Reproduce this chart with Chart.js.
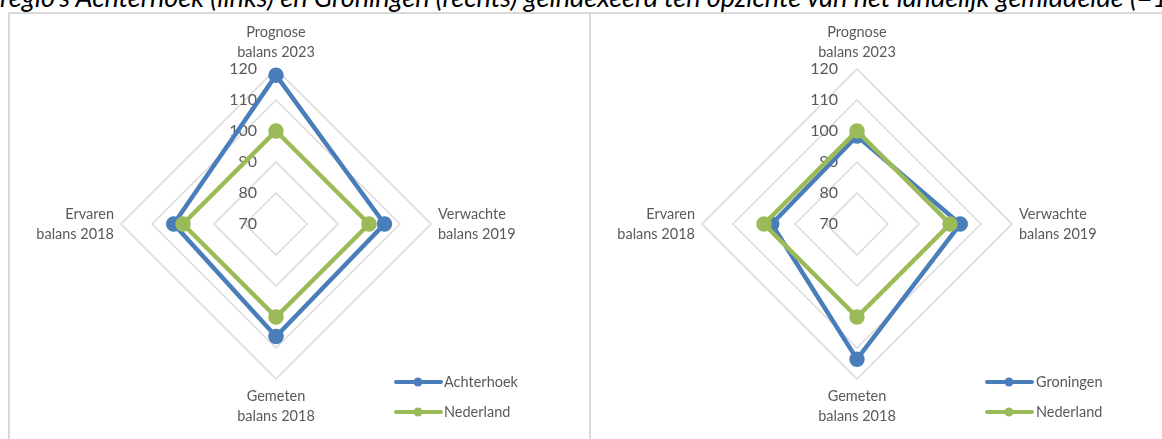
<!DOCTYPE html>
<html>
<head>
<meta charset="utf-8">
<script src="https://cdn.jsdelivr.net/npm/chart.js@4.4.1/dist/chart.umd.min.js"></script>
<style>
body { margin: 0; width: 1162px; height: 439px; overflow: hidden; background: #fff; position: relative; font-family: Lato, sans-serif; }
#titel { position: absolute; left: 0; top: -20px; font-style: italic; font-size: 27px; white-space: nowrap; color: #000; }
.kader { position: absolute; top: 12px; height: 440px; width: 583px; border: 2px solid #d9d9d9; box-sizing: border-box; background: #fff; }
canvas { position: absolute; top: 14px; }
</style>
</head>
<body>
<div id="titel">regio's Achterhoek (links) en Groningen (rechts) geïndexeerd ten opzichte van het landelijk gemiddelde (=100)</div>
<div class="kader" style="left:8px"></div>
<div class="kader" style="left:589px"></div>
<canvas id="radarLinks" width="579" height="425" style="left:10px"></canvas>
<canvas id="radarRechts" width="579" height="425" style="left:591px"></canvas>
<script>
const assen = [['Prognose', 'balans 2023'], ['Verwachte', 'balans 2019'], ['Gemeten', 'balans 2018'], ['Ervaren', 'balans 2018']];
const achterhoek = [118, 105, 106.3, 103];
const groningen = [98.4, 103.3, 113.6, 97.5];
const nederland = [100, 100, 100, 100];
const schaalTicks = [70, 80, 90, 100, 110, 120];

const blauw = '#4a7ebb';
const groen = '#9bbb59';
const tekstKleur = '#595959';

// waardes naast de verticale as, rechts uitgelijnd
const tickLabels = {
    id: 'tickLabels',
    beforeDatasetsDraw(chart) {
        const s = chart.scales.r;
        const ctx = chart.ctx;
        ctx.save();
        ctx.font = '16px Lato';
        ctx.fillStyle = tekstKleur;
        ctx.textAlign = 'right';
        ctx.textBaseline = 'middle';
        s.ticks.forEach(t => {
            ctx.fillText(t.label, s.xCenter - 19, s.yCenter - s.getDistanceFromCenterForValue(t.value));
        });
        ctx.restore();
    }
};

// legenda met lijn + bolletje, rechtsonder
const lijnLegenda = {
    id: 'lijnLegenda',
    afterDraw(chart, args, opts) {
        const ctx = chart.ctx;
        ctx.save();
        chart.data.datasets.forEach((ds, i) => {
            const y = opts.y + i * 30;
            ctx.strokeStyle = ds.borderColor;
            ctx.fillStyle = ds.borderColor;
            ctx.lineWidth = 4;
            ctx.lineCap = 'round';
            ctx.beginPath();
            ctx.moveTo(opts.x, y);
            ctx.lineTo(opts.x + 45, y);
            ctx.stroke();
            ctx.beginPath();
            ctx.arc(opts.x + 22, y, 4.5, 0, Math.PI * 2);
            ctx.fill();
            ctx.font = '14.5px Lato';
            ctx.fillStyle = tekstKleur;
            ctx.textAlign = 'left';
            ctx.textBaseline = 'middle';
            ctx.fillText(ds.label, opts.x + opts.tekst, y);
        });
        ctx.restore();
    }
};

function maakRadar(id, regio, waarden, legX, legTekst) {
    new Chart(document.getElementById(id), {
        type: 'radar',
        data: {
            labels: assen,
            datasets: [{
                label: regio,
                data: waarden,
                borderColor: blauw,
                backgroundColor: blauw,
                pointBackgroundColor: blauw,
                pointBorderColor: blauw,
                borderWidth: 4.5,
                pointRadius: 5.5,
                fill: false,
                order: 1
            }, {
                label: 'Nederland',
                data: nederland,
                borderColor: groen,
                backgroundColor: groen,
                pointBackgroundColor: groen,
                pointBorderColor: groen,
                borderWidth: 4.5,
                pointRadius: 5.5,
                fill: false,
                order: 0
            }]
        },
        options: {
            responsive: false,
            animation: false,
            layout: { padding: { left: 0, right: 47, top: 8, bottom: 13 } },
            plugins: {
                legend: { display: false },
                tooltip: { enabled: false },
                lijnLegenda: { x: legX, y: 368, tekst: legTekst }
            },
            scales: {
                r: {
                    min: schaalTicks[0],
                    max: schaalTicks[schaalTicks.length - 1],
                    ticks: { stepSize: 10, display: false },
                    grid: { color: '#d9d9d9', lineWidth: 1.5 },
                    angleLines: { display: false },
                    pointLabels: {
                        color: tekstKleur,
                        padding: 7,
                        font: { family: 'Lato', size: 14.5, lineHeight: '20px' }
                    }
                }
            }
        },
        plugins: [tickLabels, lijnLegenda]
    });
}

maakRadar('radarLinks', 'Achterhoek', achterhoek, 386, 48);
maakRadar('radarRechts', 'Groningen', groningen, 396, 49);
</script>
</body>
</html>
